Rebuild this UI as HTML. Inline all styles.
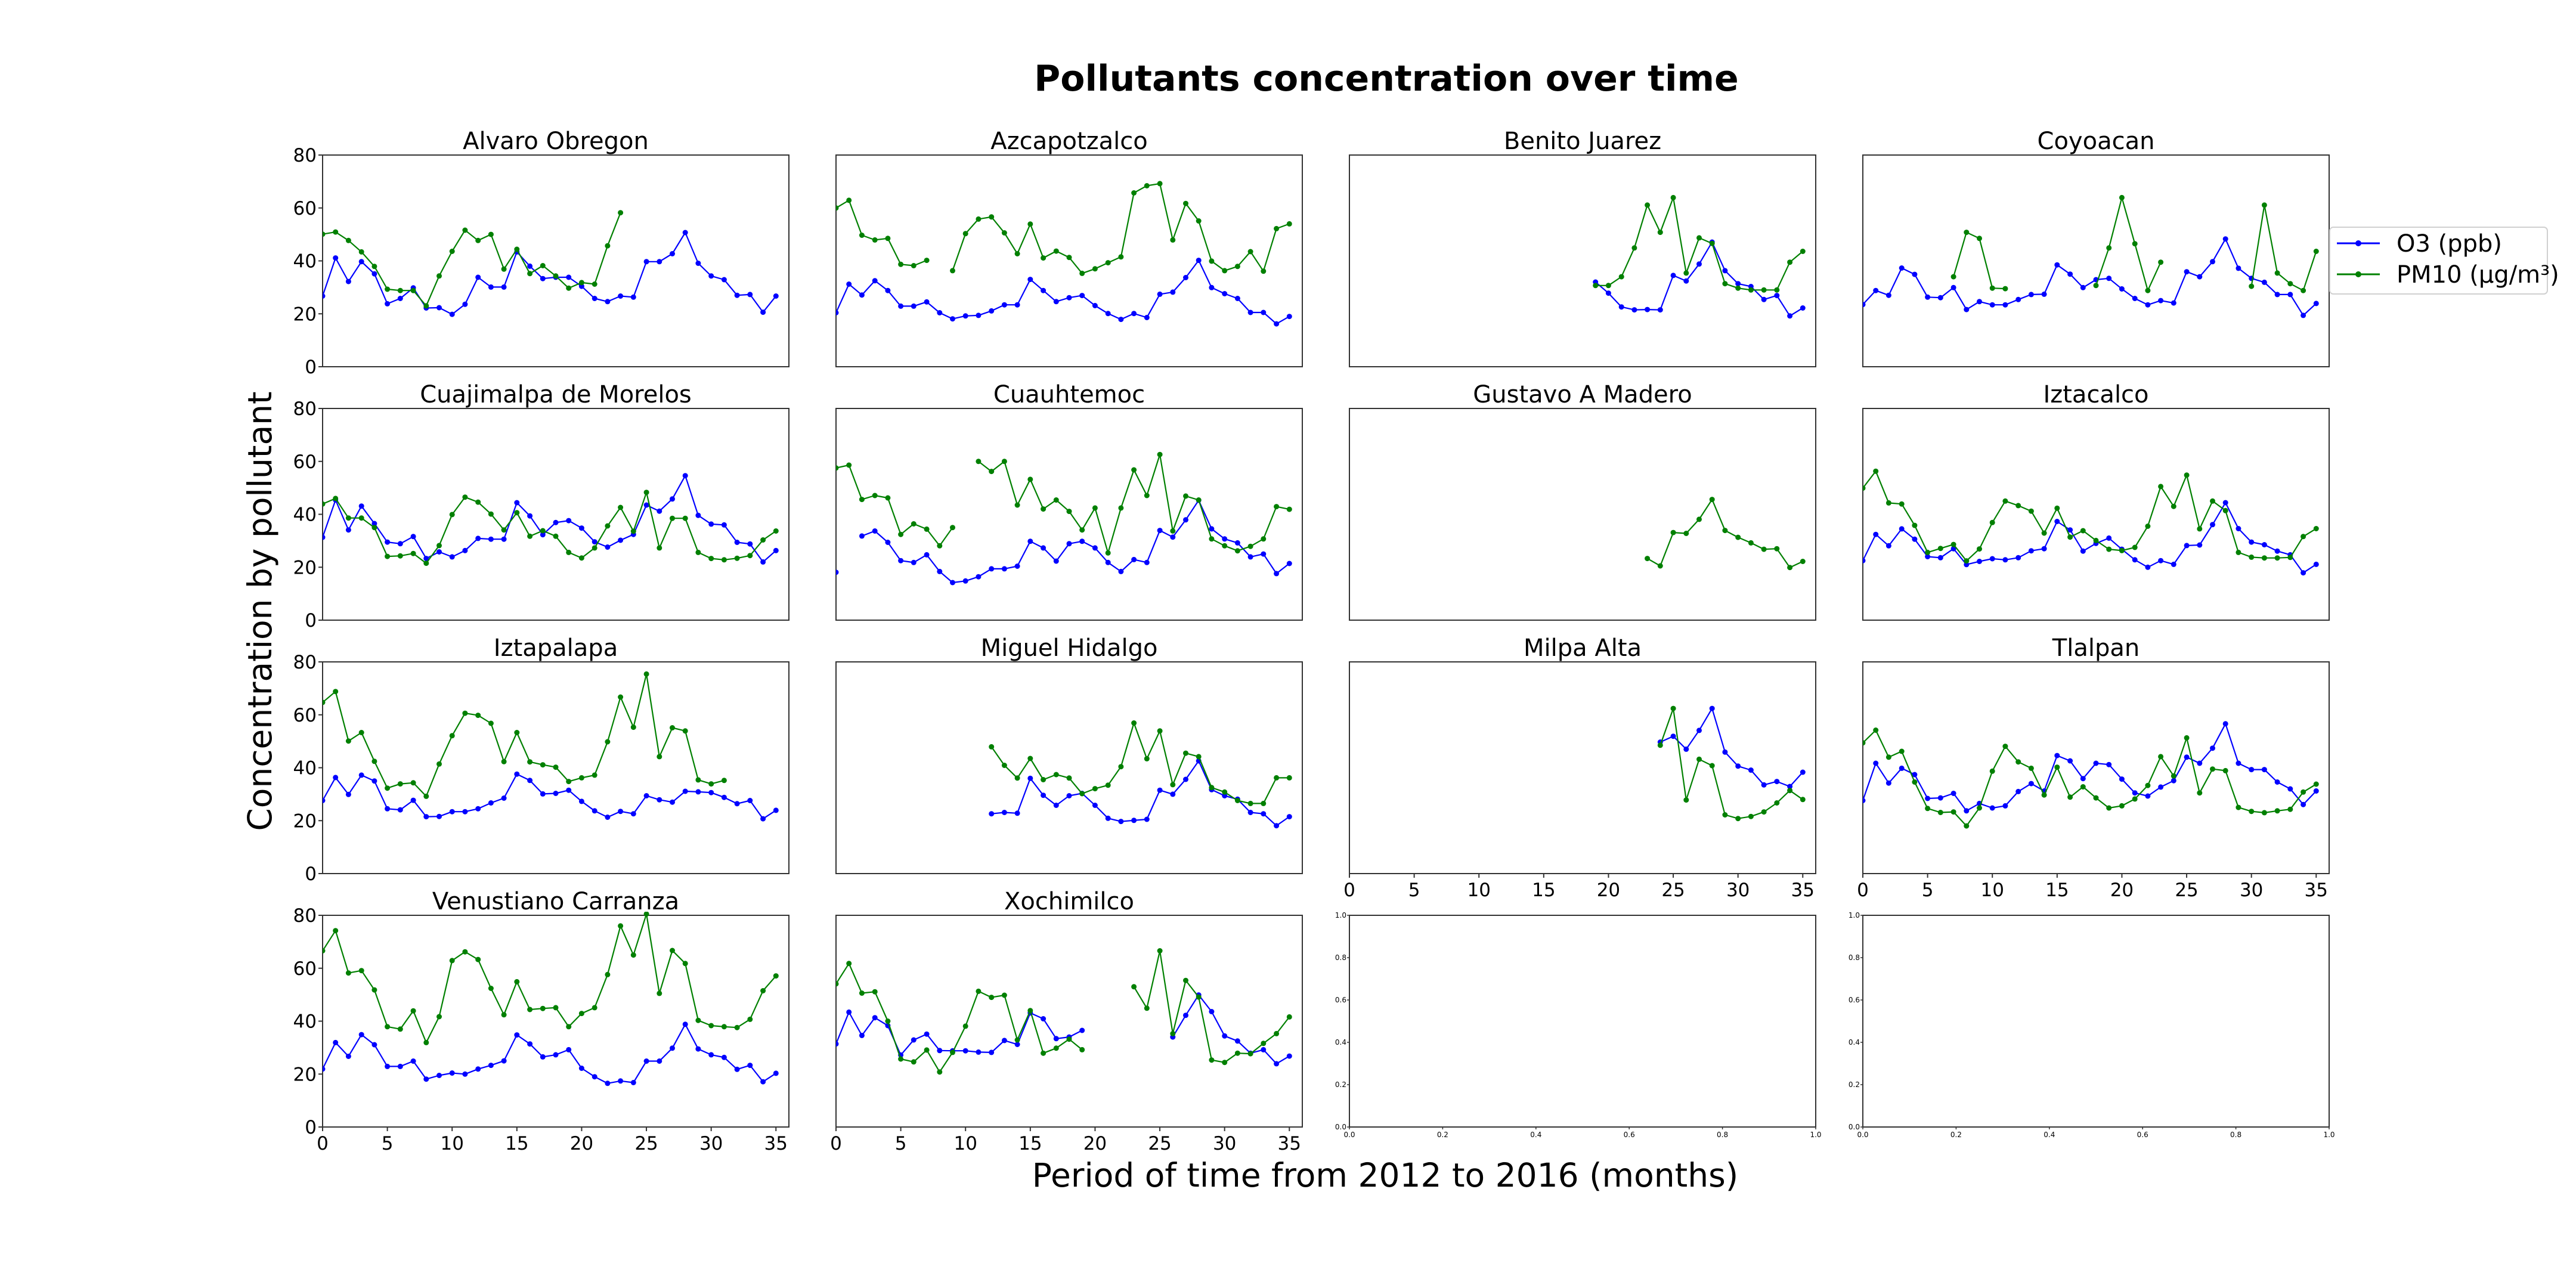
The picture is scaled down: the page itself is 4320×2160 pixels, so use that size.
<!DOCTYPE html>
<html><head><meta charset="utf-8">
<style>
html,body{margin:0;padding:0;background:#fff;}
svg{display:block;font-family:"DejaVu Sans","Liberation Sans",sans-serif;}
</style></head>
<body>
<svg id="fig" width="4320" height="2160" viewBox="0 0 4320 2160" xmlns="http://www.w3.org/2000/svg">
<rect x="0" y="0" width="4320" height="2160" fill="#fff"/>
<text x="2325" y="152" font-size="60" font-weight="bold" text-anchor="middle">Pollutants concentration over time</text>
<text x="0" y="0" font-size="55" text-anchor="middle" transform="translate(455,1025) rotate(-90)">Concentration by pollutant</text>
<text x="2323" y="1990" font-size="55" text-anchor="middle">Period of time from 2012 to 2016 (months)</text>
<g id="panels"></g>
<g>
<rect x="3907" y="381" width="365" height="112" rx="6" fill="#fff" stroke="#d0d0d0" stroke-width="2"/>
<g>
<line x1="3919" y1="408" x2="3991" y2="408" stroke="#0000ff" stroke-width="3"/>
<circle cx="3955" cy="408" r="5" fill="#0000ff"/>
<text x="4019" y="422" font-size="40">O3 (ppb)</text>
</g>
<g>
<line x1="3919" y1="460" x2="3991" y2="460" stroke="#008000" stroke-width="3"/>
<circle cx="3955" cy="460" r="5" fill="#008000"/>
<text x="4019" y="474" font-size="40">PM10 (µg/m³)</text>
</g>
</g>
</svg>
<script>
const N = null;
const districts = ["Alvaro Obregon","Azcapotzalco","Benito Juarez","Coyoacan","Cuajimalpa de Morelos","Cuauhtemoc","Gustavo A Madero","Iztacalco","Iztapalapa","Miguel Hidalgo","Milpa Alta","Tlalpan","Venustiano Carranza","Xochimilco"];
const yTicks = [0,20,40,60,80];
const xTicks = [0,5,10,15,20,25,30,35];
const emptyTicks = ["0.0","0.2","0.4","0.6","0.8","1.0"];
function pad(n, arr){ return Array(n).fill(null).concat(arr); }
const o3_alvaro = [26.7,41.1,32.2,39.7,35.1,23.8,25.8,29.8,22.2,22.3,19.8,23.6,33.8,30.1,30.1,43.4,38.0,33.3,33.8,33.8,30.4,25.8,24.6,26.7,26.3,39.7,39.7,42.7,50.7,39.1,34.3,32.9,27.0,27.3,20.6,26.7];
const pm_alvaro = [50.1,50.9,47.7,43.4,37.9,29.3,28.8,28.8,23.0,34.3,43.6,51.6,47.7,50.0,36.9,44.4,35.2,38.2,34.3,29.7,31.8,31.2,45.7,58.2,N,N,N,N,N,N,N,N,N,N,N,N];
const o3_azc = [20.4,31.2,27.1,32.5,28.8,22.9,22.9,24.5,20.4,18.1,19.2,19.4,21.1,23.4,23.4,33.0,28.8,24.6,26.1,26.9,23.1,20.1,17.9,20.1,18.6,27.4,28.2,33.7,40.2,29.9,27.6,25.8,20.5,20.5,16.2,19.0];
const pm_azc = [60.0,62.9,49.7,47.9,48.5,38.7,38.2,40.2,N,36.3,50.3,55.8,56.6,50.6,42.7,53.9,41.1,43.7,41.3,35.3,37.0,39.3,41.5,65.7,68.4,69.2,47.9,61.7,55.1,39.9,36.3,37.9,43.5,36.1,52.2,54.0];
const o3_benito = pad(19,[32.0,27.8,22.6,21.5,21.6,21.5,34.5,32.4,38.8,47.1,36.3,31.4,30.3,25.4,26.9,19.2,22.2]);
const pm_benito = pad(19,[30.7,30.7,34.0,44.9,61.1,50.8,63.9,35.4,48.7,46.6,31.4,29.7,29.0,29.0,29.0,39.5,43.6]);
const o3_coyo = [23.5,28.8,27.0,37.3,34.9,26.3,26.1,29.9,21.6,24.6,23.4,23.4,25.4,27.3,27.4,38.5,35.0,29.9,32.9,33.4,29.4,25.8,23.4,25.0,24.1,35.9,34.0,39.7,48.3,37.2,33.4,31.9,27.3,27.3,19.4,23.9];
const pm_coyo = [N,N,N,N,N,N,N,34.0,50.8,48.5,29.7,29.5,N,N,N,N,N,N,30.7,44.9,63.9,46.5,28.8,39.5,N,N,N,N,N,N,30.4,61.1,35.4,31.4,28.8,43.6];
const o3_cuaj = [31.3,45.4,34.1,43.1,36.5,29.5,28.9,31.6,23.3,25.8,23.9,26.3,30.9,30.6,30.6,44.4,39.4,32.3,36.9,37.6,34.8,29.6,27.6,30.2,32.4,43.5,41.2,45.8,54.6,39.6,36.3,36.0,29.4,28.8,22.0,26.3];
const pm_cuaj = [43.9,46.0,38.6,38.6,35.0,24.1,24.3,25.2,21.5,28.2,39.9,46.5,44.6,40.1,34.1,40.6,31.7,33.8,31.7,25.6,23.5,27.3,35.6,42.6,33.6,48.3,27.3,38.5,38.5,25.6,23.3,22.8,23.4,24.4,30.3,33.7];
const o3_cuau = [18.1,N,31.8,33.7,29.4,22.5,21.8,24.7,18.4,14.2,14.8,16.4,19.4,19.4,20.4,29.8,27.3,22.3,28.9,29.8,27.3,21.8,18.4,22.9,21.8,33.9,31.4,37.9,45.3,34.5,30.7,29.2,23.9,25.0,17.6,21.4];
const pm_cuau = [57.5,58.6,45.6,47.1,46.2,32.4,36.4,34.4,28.1,35.0,N,60.0,56.2,60.0,43.5,53.2,42.0,45.4,41.1,34.1,42.4,25.4,42.4,56.8,47.1,62.6,33.7,46.9,45.4,30.7,28.1,26.2,27.9,30.7,42.9,41.9];
const o3_gam = Array(36).fill(null);
const pm_gam = pad(23,[23.3,20.5,33.1,32.8,38.1,45.6,33.9,31.3,29.2,26.8,27.0,19.9,22.2]);
const o3_izc = [22.5,32.4,28.1,34.5,30.6,24.0,23.6,27.0,21.0,22.2,23.2,22.8,23.6,26.2,27.0,37.3,34.1,26.1,29.0,31.0,26.8,22.8,20.0,22.5,21.1,28.2,28.4,36.1,44.4,34.6,29.5,28.5,26.1,24.7,17.9,21.1];
const pm_izc = [49.9,56.3,44.3,43.9,35.8,25.6,27.1,28.6,22.4,26.9,36.9,45.0,43.3,41.2,32.9,42.3,31.4,33.8,30.1,26.8,26.3,27.5,35.5,50.5,43.0,54.8,34.5,45.0,41.4,25.6,23.8,23.5,23.5,23.7,31.6,34.6];
const o3_izp = [27.6,36.3,29.9,37.2,35.0,24.5,24.1,27.7,21.5,21.6,23.4,23.4,24.5,26.7,28.5,37.6,35.2,30.1,30.3,31.5,27.3,23.7,21.3,23.5,22.6,29.4,27.9,27.0,31.1,30.9,30.6,28.8,26.4,27.6,20.7,23.9];
const pm_izp = [64.7,68.8,50.1,53.3,42.4,32.3,33.9,34.3,29.2,41.4,52.1,60.6,59.8,56.8,42.3,53.3,42.2,41.1,40.2,34.8,36.2,37.2,49.8,66.7,55.3,75.4,44.2,55.1,53.9,35.4,33.9,35.2,N,N,N,N];
const o3_mh = pad(12,[22.6,23.1,22.8,36.0,29.6,25.8,29.4,30.3,25.8,20.9,19.7,20.1,20.5,31.5,30.0,35.6,42.6,31.7,29.4,28.1,23.1,22.6,18.1,21.5]);
const pm_mh = pad(12,[47.9,40.9,36.1,43.5,35.5,37.4,36.1,30.2,32.1,33.4,40.4,56.9,43.4,53.9,33.6,45.5,44.2,32.5,30.8,27.6,26.5,26.5,36.2,36.2]);
const o3_ma = pad(24,[49.7,51.9,47.0,54.1,62.4,45.9,40.6,39.1,33.5,34.8,32.9,38.3]);
const pm_ma = pad(24,[48.5,62.4,27.8,43.2,40.8,22.2,20.8,21.6,23.3,26.7,31.4,28.0]);
const o3_tla = [27.6,41.7,34.2,39.8,37.4,28.4,28.6,30.3,23.7,26.5,24.8,25.6,31.0,34.0,31.2,44.6,42.6,35.9,41.7,41.2,35.7,30.5,29.3,32.7,35.1,44.0,41.7,47.4,56.6,41.7,39.3,39.3,34.6,32.0,26.1,31.2];
const pm_tla = [49.4,54.2,44.0,46.2,34.6,24.6,23.1,23.3,18.0,24.8,38.7,48.1,42.2,39.8,29.7,40.2,28.9,32.8,28.6,24.8,25.6,28.2,33.3,44.2,36.9,51.3,30.5,39.5,38.9,25.0,23.5,23.0,23.7,24.3,30.8,33.8];
const o3_vc = [21.9,31.9,26.7,34.9,31.1,22.9,22.9,24.9,18.1,19.5,20.4,20.0,21.9,23.3,25.0,34.8,31.4,26.5,27.3,29.2,22.2,19.0,16.5,17.4,16.8,24.9,24.9,29.8,38.8,29.5,27.3,26.3,21.8,23.3,17.1,20.3];
const pm_vc = [66.6,74.2,58.2,59.1,51.8,37.9,37.0,43.9,31.9,41.7,62.9,66.2,63.3,52.4,42.4,54.9,44.4,44.8,45.1,37.9,42.9,45.1,57.6,76.0,65.0,80.5,50.5,66.7,61.8,40.3,38.3,37.9,37.6,40.7,51.5,57.1];
const o3_xo = [31.4,43.4,34.6,41.3,38.3,27.2,32.9,35.1,28.9,28.8,28.8,28.3,28.2,32.7,31.2,43.1,40.9,33.4,34.0,36.5,N,N,N,N,N,N,34.0,42.2,49.9,43.6,34.4,32.5,27.9,29.2,23.9,26.8];
const pm_xo = [54.1,61.8,50.6,51.1,40.0,25.7,24.6,29.1,20.8,28.2,38.1,51.3,49.0,49.8,32.9,44.0,27.9,29.8,33.2,29.2,N,N,N,53.0,44.9,66.6,35.3,55.4,49.1,25.3,24.4,27.9,27.7,31.6,35.3,41.6];
const o3Series = [o3_alvaro,o3_azc,o3_benito,o3_coyo,o3_cuaj,o3_cuau,o3_gam,o3_izc,o3_izp,o3_mh,o3_ma,o3_tla,o3_vc,o3_xo];
const pmSeries = [pm_alvaro,pm_azc,pm_benito,pm_coyo,pm_cuaj,pm_cuau,pm_gam,pm_izc,pm_izp,pm_mh,pm_ma,pm_tla,pm_vc,pm_xo];

const NS = "http://www.w3.org/2000/svg";
const colX = [541,1402,2263,3124], rowY = [260,685,1110,1535];
const PW = 782, PH = 355, XMAX = 36, YMAX = 80;
const root = document.getElementById('panels');
function mk(tag, attrs, parent){ const e=document.createElementNS(NS,tag); for(const k in attrs) e.setAttribute(k,attrs[k]); parent.appendChild(e); return e; }
function slug(s){ return s.toLowerCase().replace(/ /g,'-'); }

function drawSeries(g, vals, sx, sy, color, name){
  const sg = mk('g',{},g);
  
  
  let seg=[];
  const flush=()=>{ if(seg.length>1){ const p=mk('polyline',{points:seg.join(' '),fill:'none',stroke:color,'stroke-width':2.2,'stroke-linejoin':'round'},sg);
      
       } seg=[]; };
  vals.forEach((v,i)=>{ if(v===null){flush();return;} seg.push(sx(i).toFixed(1)+','+sy(v).toFixed(1)); });
  flush();
  vals.forEach((v,i)=>{ if(v===null) return;
    const c = mk('circle',{cx:sx(i).toFixed(1),cy:sy(v).toFixed(1),r:4.5,fill:color},sg);
    
    
  });
}

for(let k=0;k<16;k++){
  const r=Math.floor(k/4), c=k%4, x0=colX[c], y0=rowY[r];
  const g = mk('g',{},root);
  if(k<14){
    
  } else {
    
  }
  
  const bg = mk('rect',{x:x0,y:y0,width:PW,height:PH,fill:'#fff',stroke:'#333','stroke-width':2},g);
  
  
  if(k<14){
    const sx = i => x0 + i/XMAX*PW;
    const sy = v => y0 + PH - v/YMAX*PH;
    const t = mk('text',{x:x0+PW/2,y:y0-10,'font-size':40,'text-anchor':'middle'},g);
    t.textContent = districts[k];
    
    
    const cp = mk('clipPath',{id:'cp'+k},g);
    mk('rect',{x:x0,y:y0-6,width:PW,height:PH+6},cp);
    const dg = mk('g',{'clip-path':'url(#cp'+k+')'},g);
    drawSeries(dg, o3Series[k], sx, sy, '#0000ff', 'o3-series');
    drawSeries(dg, pmSeries[k], sx, sy, '#008000', 'pm10-series');
    if(c===0){
      yTicks.forEach(v=>{
        mk('line',{x1:x0-7,y1:sy(v),x2:x0,y2:sy(v),stroke:'#333','stroke-width':2},g);
        const tl = mk('text',{x:x0-10,y:sy(v)+11,'font-size':31,'text-anchor':'end'},g);
        tl.textContent = v;
        
        
      });
    }
    if(r===3 || (r===2 && c>=2)){
      xTicks.forEach(v=>{
        mk('line',{x1:sx(v),y1:y0+PH,x2:sx(v),y2:y0+PH+7,stroke:'#333','stroke-width':2},g);
        const tl = mk('text',{x:sx(v),y:y0+PH+38,'font-size':31,'text-anchor':'middle'},g);
        tl.textContent = v;
        
        
      });
    }
  } else {
    emptyTicks.forEach((lab,i)=>{
      const yy = y0+PH - i/5*PH, xx = x0 + i/5*PW;
      mk('line',{x1:x0-4,y1:yy,x2:x0,y2:yy,stroke:'#333','stroke-width':1.5},g);
      const a = mk('text',{x:x0-5,y:yy+4,'font-size':12,'text-anchor':'end'},g);
      a.textContent = lab;
      
      
      mk('line',{x1:xx,y1:y0+PH,x2:xx,y2:y0+PH+4,stroke:'#333','stroke-width':1.5},g);
      const b = mk('text',{x:xx,y:y0+PH+17,'font-size':12,'text-anchor':'middle'},g);
      b.textContent = lab;
      
      
    });
  }
}
</script>
</body></html>
